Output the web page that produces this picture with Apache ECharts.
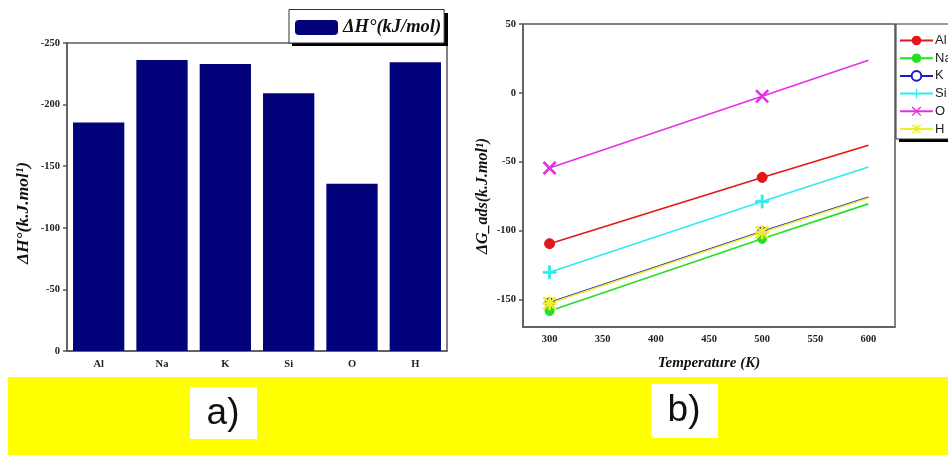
<!DOCTYPE html>
<html>
<head>
<meta charset="utf-8">
<script src="https://cdn.jsdelivr.net/npm/echarts@6/dist/echarts.min.js"></script>
<style>html,body{margin:0;padding:0;background:#fff}#c{width:948px;height:455px}</style>
</head>
<body>
<div id="c"></div>
<script>
// ---- data ----
const elements = ['Al', 'Na', 'K', 'Si', 'O', 'H'];
const enthalpy = [-185.5, -236.2, -233.0, -209.2, -135.8, -234.3];
const barSeriesName = 'ΔH°(kJ/mol)';
const enthalpyTicks = [-250, -200, -150, -100, -50, 0];

const temperatures = [300, 500, 600];
const gAl = [-109.5, -61.4, -38.1];
const gNa = [-158.4, -106.0, -80.6];
const gK  = [-152.3, -100.6, -75.8];
const gSi = [-130.3, -78.9, -53.9];
const gO  = [-54.6, -2.5, 23.7];
const gH  = [-152.8, -101.2, -76.4];
const tempTicks = [300, 350, 400, 450, 500, 550, 600];
const gTicks = [-150, -100, -50, 0, 50];

// ---- styles ----
const serif = '"Liberation Serif","Times New Roman",serif';
const PLUS = 'path://M8.6,0H11.4V8.6H20V11.4H11.4V20H8.6V11.4H0V8.6H8.6Z';
const CROSS = 'path://M2,0L10,8L18,0L20,2L12,10L20,18L18,20L10,12L2,20L0,18L8,10L0,2Z';
const STAR = 'path://M8.6,0H11.4V8.6H20V11.4H11.4V20H8.6V11.4H0V8.6H8.6Z M2,0L10,8L18,0L20,2L12,10L20,18L18,20L10,12L2,20L0,18L8,10L0,2Z';

// markers are shown at the measured temperatures 300 K and 500 K only
function pairs(vals) {
  return temperatures.map((t, i) => (i < 2 ? [t, vals[i]] : { value: [t, vals[i]], symbol: 'none' }));
}
function lineSeries(name, vals, color, symbol, size, extra) {
  return Object.assign({
    name: name, type: 'line', xAxisIndex: 1, yAxisIndex: 1,
    data: pairs(vals),
    symbol: symbol,
    symbolSize: size,
    showAllSymbol: true,
    lineStyle: { color: color, width: 1.6 },
    itemStyle: { color: color, borderColor: color },
    emphasis: { disabled: true },
    animation: false
  }, extra || {});
}

const chart = echarts.init(document.getElementById('c'), null, { renderer: 'canvas' });
const axisCol = '#5a5a5a';
const labelStyle = { fontFamily: serif, fontWeight: 'bold', fontSize: 10.5, color: '#222' };

chart.setOption({
  animation: false,
  backgroundColor: '#fff',
  grid: [
    { left: 67, top: 43, width: 380, height: 308, show: true, borderColor: axisCol, borderWidth: 1.5 },
    { left: 523, top: 24, width: 372, height: 303, show: true, borderColor: axisCol, borderWidth: 1.5 }
  ],
  xAxis: [
    { type: 'category', gridIndex: 0, data: elements,
      axisLine: { lineStyle: { color: axisCol, width: 1.5 } },
      axisTick: { show: false },
      axisLabel: Object.assign({ margin: 8 }, labelStyle) },
    { type: 'value', gridIndex: 1, min: 275, max: 625,
      splitLine: { show: false },
      axisLine: { onZero: false, lineStyle: { color: axisCol, width: 1.5 } },
      axisTick: { show: false, customValues: tempTicks },
      axisLabel: Object.assign({ margin: 7, customValues: tempTicks }, labelStyle),
      name: 'Temperature (K)', nameLocation: 'middle', nameGap: 29,
      nameTextStyle: { fontFamily: serif, fontWeight: 'bold', fontStyle: 'italic', fontSize: 15, color: '#111' } }
  ],
  yAxis: [
    { type: 'value', gridIndex: 0, inverse: true, min: -250, max: 0, interval: 50,
      splitLine: { show: false },
      axisLine: { show: true, lineStyle: { color: axisCol, width: 1.5 } },
      axisTick: { show: true, length: 4, lineStyle: { color: axisCol, width: 1.5 } },
      axisLabel: Object.assign({ margin: 7 }, labelStyle) },
    { type: 'value', gridIndex: 1, min: -170, max: 50,
      splitLine: { show: false },
      axisLine: { show: true, onZero: false, lineStyle: { color: axisCol, width: 1.5 } },
      axisTick: { show: true, length: 4, customValues: gTicks, lineStyle: { color: axisCol, width: 1.5 } },
      axisLabel: Object.assign({ margin: 7, customValues: gTicks }, labelStyle) }
  ],
  legend: [
    { seriesIndex: 0, data: [barSeriesName], left: 289, top: 9.5,
      orient: 'horizontal', itemWidth: 43, itemHeight: 15, itemGap: 5,
      padding: [8.5, 3, 6, 6], backgroundColor: '#fff', borderColor: '#333', borderWidth: 1,
      textStyle: { fontFamily: serif, fontWeight: 'bold', fontStyle: 'italic', fontSize: 18.5, color: '#111' },
      selectedMode: false },
    { data: ['Al', 'Na', 'K', 'Si', 'O', 'H'], left: 896, top: 24, orient: 'vertical',
      itemWidth: 33, itemHeight: 12, itemGap: 4.7,
      padding: [10, 30, 3.5, 3], backgroundColor: '#fff', borderColor: '#333', borderWidth: 1,
      textStyle: { fontFamily: '"Liberation Sans",Arial,sans-serif', fontSize: 13, color: '#222', padding: [0, 0, 0, -3] },
      selectedMode: false }
  ],
  graphic: [
    // legend shadows
    { type: 'rect', z: 0, shape: { x: 292, y: 13, width: 156, height: 33 }, style: { fill: '#000' } },
    { type: 'rect', z: 0, shape: { x: 899, y: 138, width: 60, height: 4 }, style: { fill: '#000' } },
    // axis titles
    { type: 'text', x: 23, y: 213, rotation: Math.PI / 2,
      style: { text: 'ΔH°(k.J.mol¹)', fontFamily: serif, fontWeight: 'bold', fontStyle: 'italic', fontSize: 17.5,
               fill: '#111', align: 'center', verticalAlign: 'middle' } },
    { type: 'text', x: 483, y: 196, rotation: Math.PI / 2,
      style: { text: 'ΔG_ads(k.J.mol¹)', fontFamily: serif, fontWeight: 'bold', fontStyle: 'italic', fontSize: 16,
               fill: '#111', align: 'center', verticalAlign: 'middle' } },
    // yellow band with panel labels
    { type: 'rect', shape: { x: 8, y: 377, width: 940, height: 78 }, style: { fill: '#ffff00' } },
    { type: 'rect', shape: { x: 190, y: 387, width: 67, height: 52 }, style: { fill: '#fff' } },
    { type: 'rect', shape: { x: 651, y: 384, width: 67, height: 54 }, style: { fill: '#fff' } },
    { type: 'text', x: 223, y: 414,
      style: { text: 'a)', fontFamily: '"Liberation Sans",Arial,sans-serif', fontSize: 37, fill: '#111',
               align: 'center', verticalAlign: 'middle' } },
    { type: 'text', x: 684, y: 411,
      style: { text: 'b)', fontFamily: '"Liberation Sans",Arial,sans-serif', fontSize: 37, fill: '#111',
               align: 'center', verticalAlign: 'middle' } }
  ],
  series: [
    { name: barSeriesName, type: 'bar', xAxisIndex: 0, yAxisIndex: 0, data: enthalpy,
      barWidth: '81%', itemStyle: { color: '#02027a' }, emphasis: { disabled: true } },
    lineSeries('Al', gAl, '#e01818', 'circle', 10),
    lineSeries('Na', gNa, '#22e022', 'circle', 9),
    lineSeries('K', gK, '#1a1acc', 'emptyCircle', 8, { itemStyle: { color: '#1a1acc', borderColor: '#1a1acc', borderWidth: 1.5 } }),
    lineSeries('Si', gSi, '#30ecec', PLUS, 13),
    lineSeries('O', gO, '#e530e5', CROSS, 13),
    lineSeries('H', gH, '#eeee30', STAR, 13)
  ]
});
</script>
</body>
</html>
